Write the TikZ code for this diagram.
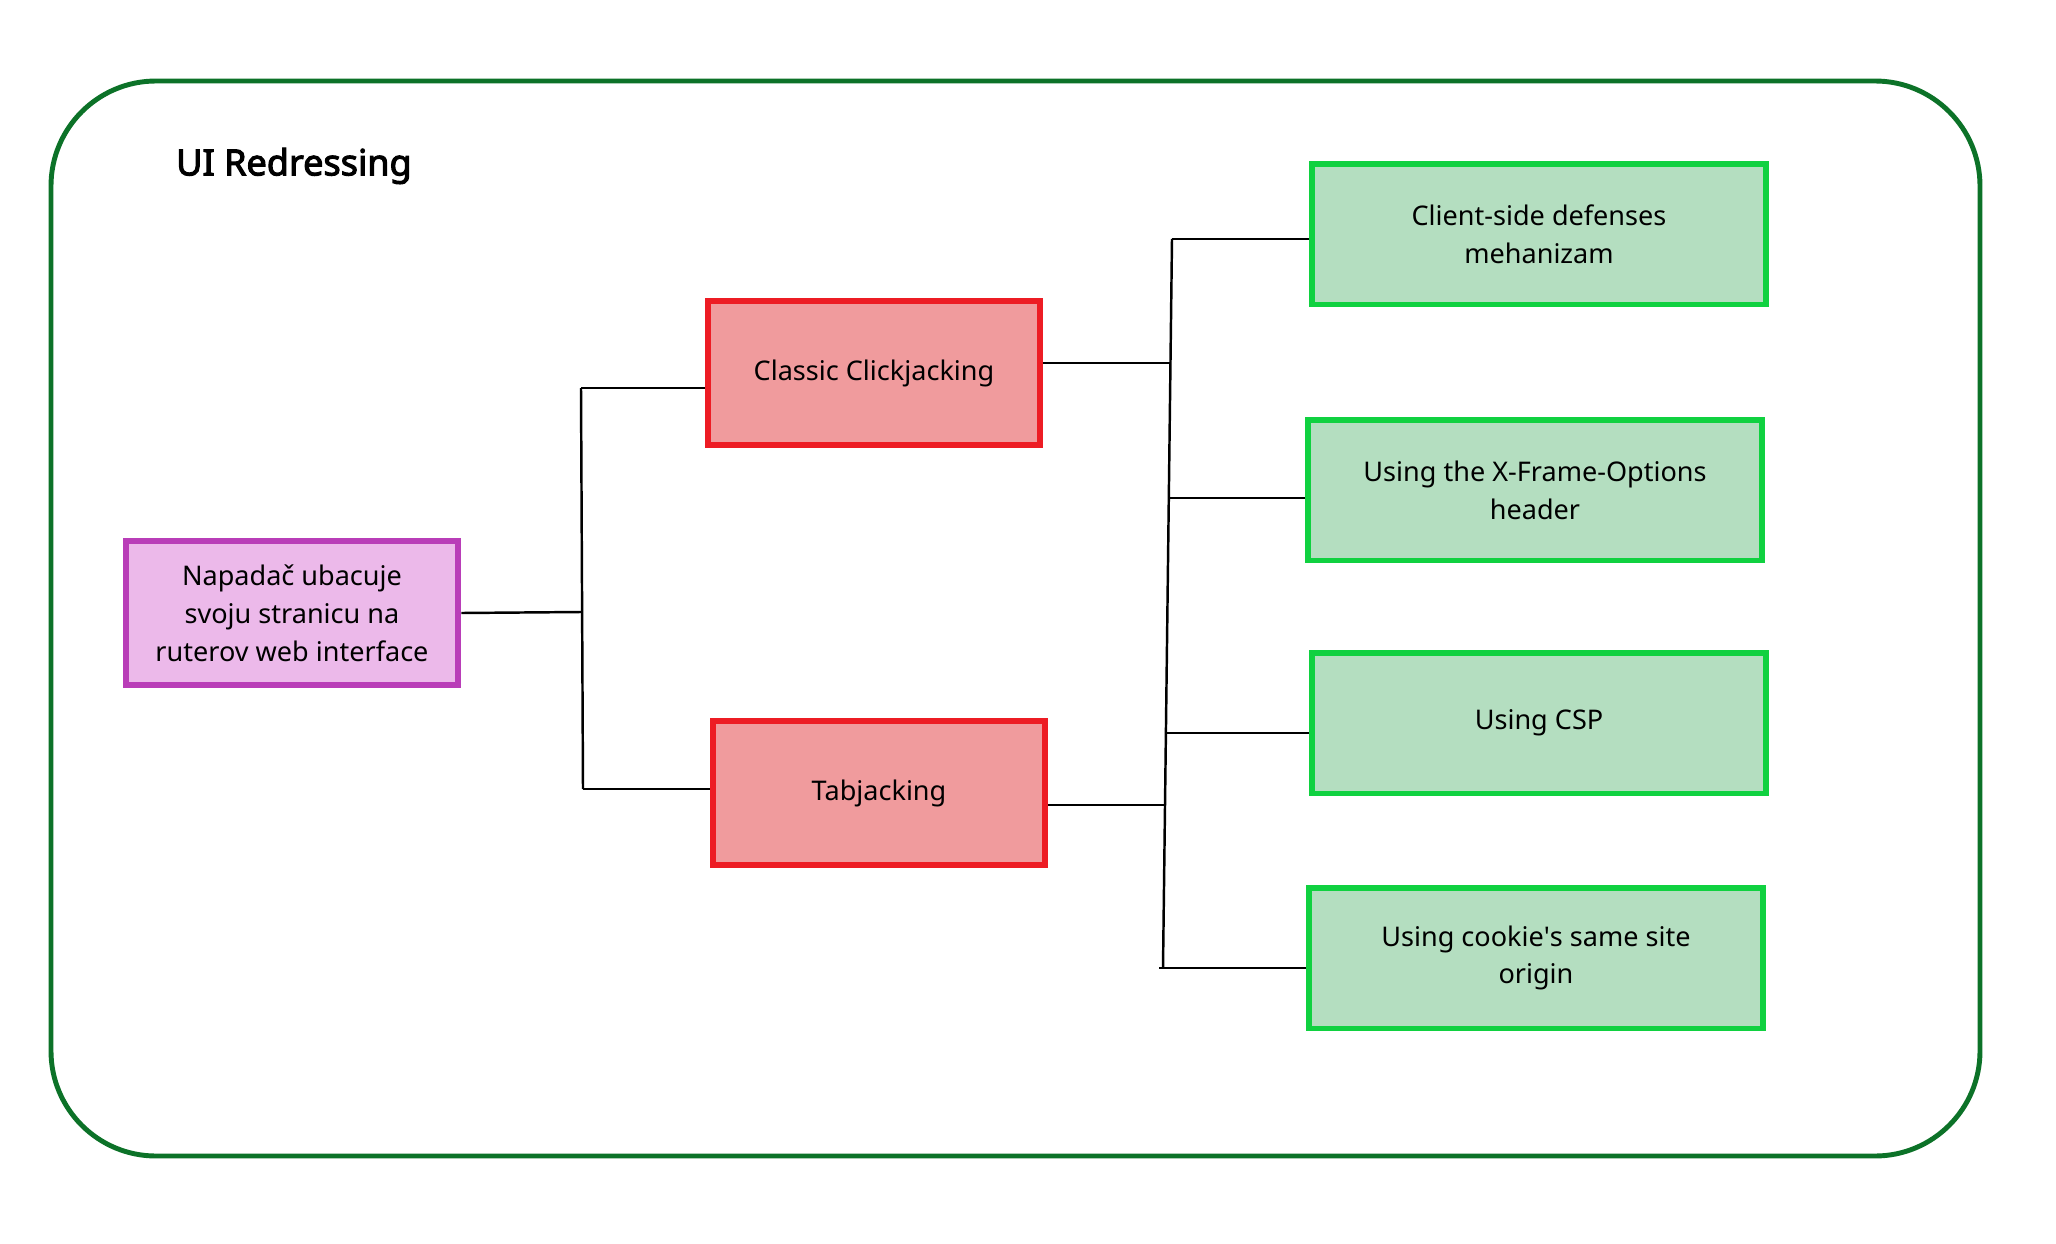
\documentclass[tikz,border=0pt]{standalone}
\usepackage{fontspec}
\setmainfont{Noto Sans}
\newfontfamily\titlefont{Noto Sans}[FakeBold=3]
\definecolor{framegreen}{RGB}{12,114,40}
\definecolor{srcdraw}{RGB}{185,61,184}
\definecolor{srcfill}{RGB}{236,185,234}
\definecolor{attackdraw}{RGB}{237,28,36}
\definecolor{attackfill}{RGB}{240,155,157}
\definecolor{defdraw}{RGB}{16,209,64}
\definecolor{deffill}{RGB}{180,222,192}
\begin{document}
\begin{tikzpicture}[x=0.02cm, y=-0.02cm,
    box/.style={draw, line width=3.4pt, inner sep=0pt, align=center,
        minimum width=6.66cm, minimum height=2.88cm,
        font=\fontsize{15.4}{21.5}\selectfont},
    attack/.style={box, draw=attackdraw, fill=attackfill},
    defense/.style={box, draw=defdraw, fill=deffill,
        minimum width=9.08cm, minimum height=2.82cm},
    link/.style={line width=1.4pt}]
    \useasboundingbox (0, 0) rectangle (2056, 1244);
    \draw[framegreen, line width=2.8pt, rounded corners=2.1cm] (51, 81) rectangle (1980, 1156);
    \node[anchor=west, font=\fontsize{20.5}{24}\titlefont] (title) at (170, 166) {UI Redressing};

    % attacker and the two attacks
    \node[box, draw=srcdraw, fill=srcfill] (src) at (292, 613)
        {Napadač ubacuje\\svoju stranicu na\\ruterov web interface};
    \node[attack] (classic) at (874, 373) {Classic Clickjacking};
    \node[attack] (tab) at (879, 793) {Tabjacking};

    % defenses
    \node[defense] (cs) at (1539, 234) {Client-side defenses\\mehanizam};
    \node[defense] (xfo) at (1535, 490) {Using the X-Frame-Options\\header};
    \node[defense] (csp) at (1539, 723) {Using CSP};
    \node[defense] (cookie) at (1536, 958) {Using cookie\textquotesingle s same site\\origin};

    % left tree
    \coordinate (l1) at (581, 388);
    \coordinate (lm) at (581, 612);
    \coordinate (l2) at (583, 789);
    \draw[link] (l1) -- (l2);
    \draw[link] (src.east) -- (lm);
    \draw[link] (l1) -- (l1 -| classic.west);
    \draw[link] (l2) -- (l2 -| tab.west);

    % right tree
    \coordinate (r1) at (1172, 239);
    \coordinate (rc) at (1171, 363);
    \coordinate (r2) at (1168, 498);
    \coordinate (r3) at (1166, 733);
    \coordinate (rt) at (1166, 805);
    \coordinate (r4) at (1163, 968);
    \draw[link] (r1) -- (r4);
    \draw[link] (classic.east |- rc) -- (rc);
    \draw[link] (tab.east |- rt) -- (rt);
    \draw[link] (r1) -- (r1 -| cs.west);
    \draw[link] (r2) -- (r2 -| xfo.west);
    \draw[link] (r3) -- (r3 -| csp.west);
    \draw[link] ([xshift=-2]r4) -- (r4 -| cookie.west);
\end{tikzpicture}
\end{document}
